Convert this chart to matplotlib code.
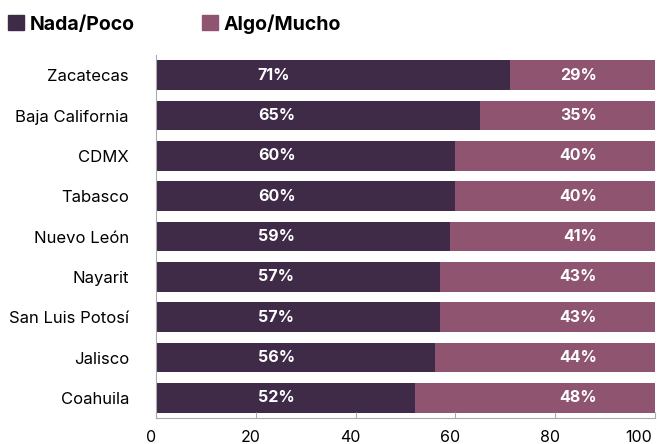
import matplotlib
matplotlib.use("Agg")
import matplotlib.pyplot as plt
import matplotlib.transforms as mtransforms
from matplotlib.patches import Patch

states = ["Zacatecas", "Baja California", "CDMX", "Tabasco", "Nuevo León",
          "Nayarit", "San Luis Potosí", "Jalisco", "Coahuila"]
nada_poco = [71, 65, 60, 60, 59, 57, 57, 56, 52]
algo_mucho = [29, 35, 40, 40, 41, 43, 43, 44, 48]
series_names = ["Nada/Poco", "Algo/Mucho"]
xticks = [0, 20, 40, 60, 80, 100]

DARK = "#3F2A47"
MAUVE = "#8F546F"

plt.rcParams["font.family"] = ["Inter", "DejaVu Sans"]

fig = plt.figure(figsize=(6.57, 4.44), dpi=100)
ax = fig.add_axes([156 / 657, 1 - 418 / 444, 499 / 657, (418 - 55) / 444])

y = list(range(len(states)))
ax.barh(y, nada_poco, height=0.74, color=DARK)
ax.barh(y, algo_mucho, left=nada_poco, height=0.74, color=MAUVE)

# value labels sit at fixed x positions, like in the original
for i in y:
    ax.text(20.4, i, f"{nada_poco[i]}%", color="white", fontsize=11.5,
            fontweight="bold", ha="left", va="center")
    ax.text(88.4, i, f"{algo_mucho[i]}%", color="white", fontsize=11.5,
            fontweight="bold", ha="right", va="center")

ax.set_ylim(len(states) - 0.5, -0.5)
ax.set_xlim(0, 100)
ax.set_yticks(y)
ax.set_yticklabels(states, fontsize=12)
ax.set_xticks(xticks)
ax.set_xticklabels([str(t) for t in xticks], fontsize=11.5)
ax.tick_params(axis="y", length=0, pad=19.5)
ax.tick_params(axis="x", direction="in", length=4, color="#AAAAAA", width=0.8, pad=8.5)
for side in ("top", "right"):
    ax.spines[side].set_visible(False)
for side in ("left", "bottom"):
    ax.spines[side].set_color("#AAAAAA")
    ax.spines[side].set_linewidth(0.8)

# x labels sit a few pixels left of their ticks; the last one is pulled inside
xlabels = ax.get_xticklabels()
for lab in xlabels:
    lab.set_transform(lab.get_transform() + mtransforms.Affine2D().translate(-5, 0))
xlabels[-1].set_horizontalalignment("right")
xlabels[-1].set_transform(xlabels[-1].get_transform() + mtransforms.Affine2D().translate(2, 0))

handles = [Patch(color=DARK), Patch(color=MAUVE)]
leg = fig.legend(handles, series_names, loc="upper left",
                 bbox_to_anchor=(8 / 657, 1 - 14 / 444),
                 ncol=2, frameon=False, borderpad=0, borderaxespad=0,
                 handlelength=0.82, handleheight=0.82,
                 handletextpad=0.3, columnspacing=3.45,
                 prop={"weight": "bold", "size": 14})

fig.savefig("out.png", dpi=100)
